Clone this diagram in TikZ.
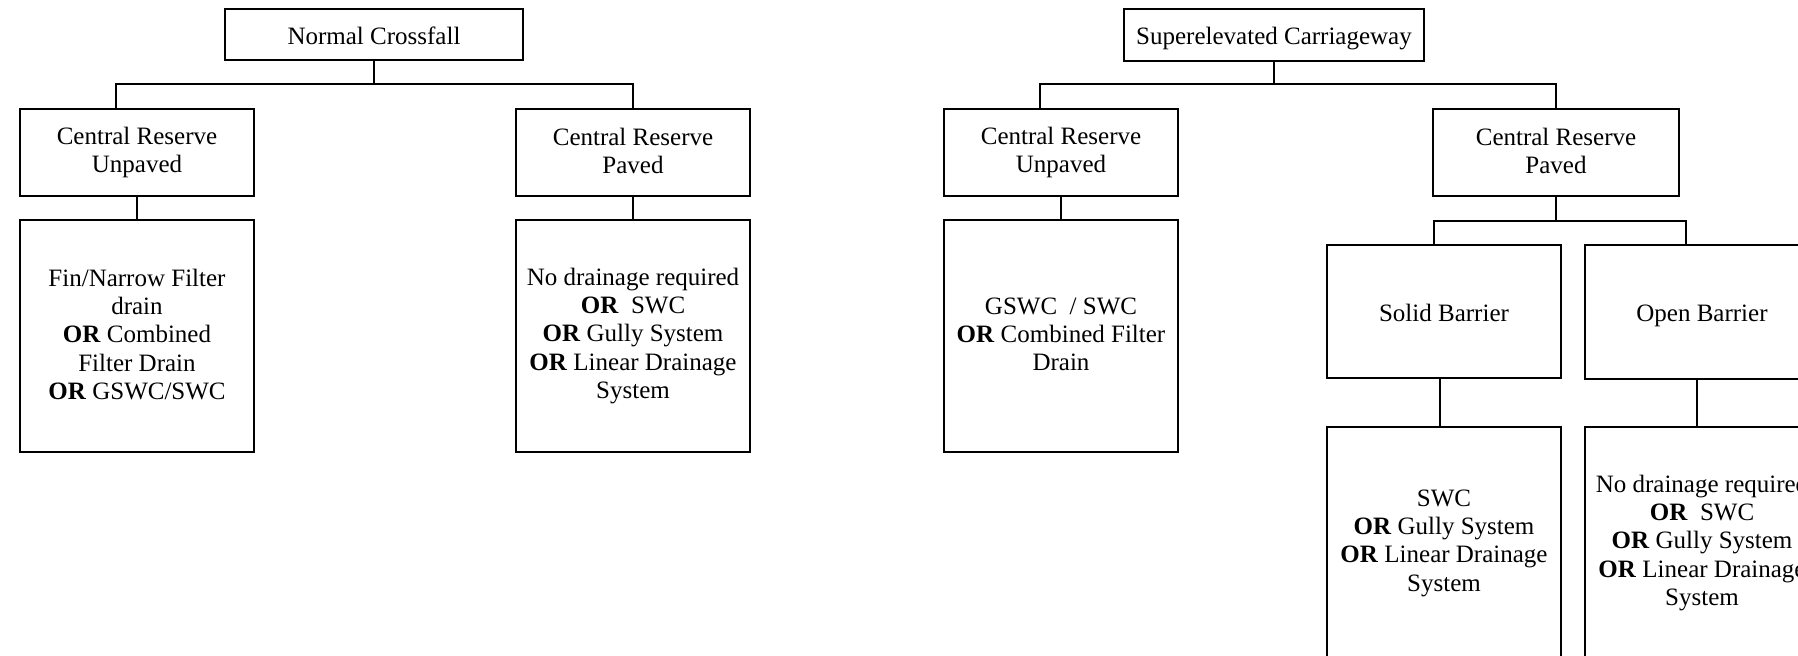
\documentclass[tikz,border=0pt]{standalone}
\usepackage{fontspec}
\setmainfont{Liberation Serif}
\usepackage{tikz}

\tikzset{
  box/.style 2 args={draw, line width=1pt, inner sep=0pt, align=center,
    minimum width=#1*0.48pt, minimum height=#2*0.48pt,
    font=\fontsize{12}{13.6}\selectfont,
    execute at begin node=\rule{0pt}{11.8pt},
    execute at end node=\rule[-1.8pt]{0pt}{1.8pt}},
  conn/.style={line width=0.8pt}
}

\begin{document}
\begin{tikzpicture}[x=0.48pt,y=-0.48pt]
\useasboundingbox (0,0) rectangle (1798,656);
\clip (0,0) rectangle (1798,656);
\fill[white] (0,0) rectangle (1798,656);

% Normal Crossfall
\node[box={298}{51}] (nc) at (374,34.5) {Normal Crossfall};
\node[box={234}{87}] (cru1) at (137,152.5) {Central Reserve\\Unpaved};
\node[box={234}{87}] (crp1) at (633,152.5) {Central Reserve\\Paved};
\node[box={234}{232}] (fd1) at (137,336) {Fin/Narrow Filter\\drain\\\textbf{OR} Combined\\Filter Drain\\\textbf{OR} GSWC/SWC};
\node[box={234}{232}] (nd1) at (633,336) {No drainage required\\\textbf{OR}\ \ SWC\\\textbf{OR} Gully System\\\textbf{OR} Linear Drainage\\System};
\coordinate (b1) at (374,84);
\coordinate (b1l) at (116,84);
\coordinate (b1r) at (633,84);
\draw[conn] (nc) -- (b1);
\draw[conn] (cru1.north -| b1l) |- (b1r) -- (crp1.north);
\draw[conn] (cru1) -- (fd1);
\draw[conn] (crp1) -- (nd1);

% Superelevated Carriageway
\node[box={300}{52}] (se) at (1274,35) {Superelevated Carriageway};
\node[box={234}{87}] (cru2) at (1061,152.5) {Central Reserve\\Unpaved};
\node[box={246}{87}] (crp2) at (1556,152.5) {Central Reserve\\Paved};
\node[box={234}{232}] (gs2) at (1061,336) {GSWC\ \ / SWC\\\textbf{OR} Combined Filter\\Drain};
\node[box={234}{133}] (sb) at (1444,311.5) {Solid Barrier};
\node[box={234}{134}] (ob) at (1702,312) {Open Barrier};
\node[box={234}{232}] (swc) at (1444,543) {SWC\\\textbf{OR} Gully System\\\textbf{OR} Linear Drainage\\System};
\node[box={234}{232}] (nd2) at (1702,543) {No drainage required\\\textbf{OR}\ \ SWC\\\textbf{OR} Gully System\\\textbf{OR} Linear Drainage\\System};
\coordinate (b2) at (1274,84);
\coordinate (b2l) at (1040,84);
\coordinate (b2r) at (1556,84);
\coordinate (b3) at (1556,221);
\coordinate (b3l) at (1434,221);
\coordinate (b3r) at (1686,221);
\draw[conn] (se) -- (b2);
\draw[conn] (cru2.north -| b2l) |- (b2r) -- (crp2.north);
\draw[conn] (cru2) -- (gs2);
\draw[conn] (crp2) -- (b3);
\draw[conn] (sb.north -| b3l) |- (b3r) -- (ob.north -| b3r);
\draw[conn] (sb.south -| 1440,0) -- (swc.north -| 1440,0);
\draw[conn] (ob.south -| 1697,0) -- (nd2.north -| 1697,0);
\end{tikzpicture}
\end{document}
